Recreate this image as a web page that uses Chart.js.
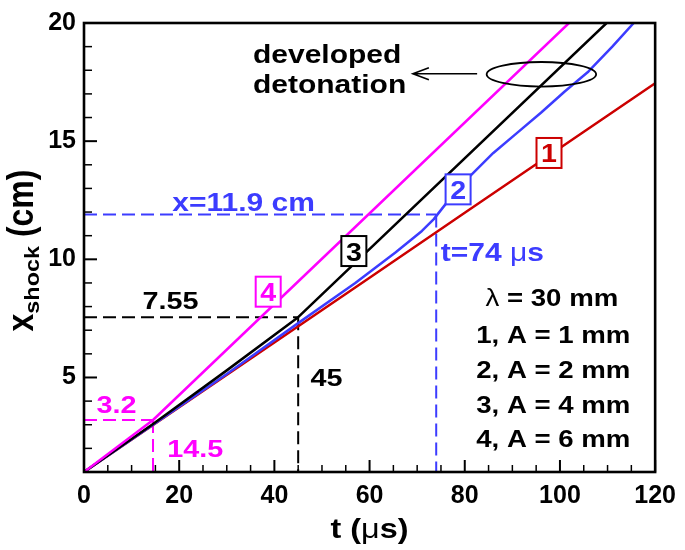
<!DOCTYPE html>
<html>
<head>
<meta charset="utf-8">
<title>Shock position vs time</title>
<script src="https://cdn.jsdelivr.net/npm/chart.js@4/dist/chart.umd.min.js"></script>
<style>
  html, body { margin: 0; padding: 0; background: #fff; }
  #wrap { width: 685px; height: 550px; position: relative; }
</style>
</head>
<body>
<div id="wrap"><canvas id="chart"></canvas></div>
<script>
// ---- shock trajectories: time (µs) and shock position (cm) ----
const tA1 = [0, 20, 40, 60, 80, 100, 120];
const xA1 = [1, 3.74, 6.48, 9.22, 11.97, 14.71, 17.45];

const tA2 = [0, 14.5, 30, 45, 57, 65.5, 71, 73.5, 77, 81, 86, 91, 96, 101, 106, 111, 115.5];
const xA2 = [1, 3.0, 5.15, 7.3, 9.0, 10.3, 11.2, 11.7, 12.6, 13.5, 14.5, 15.35, 16.2, 17.1, 17.95, 19.0, 20];

const tA4 = [0, 14.5, 30, 45, 109.8];
const xA4 = [1, 3.03, 5.3, 7.55, 20];

const tA6 = [0, 14.5, 101.9];
const xA6 = [1, 3.2, 20];

// perturbation amplitudes (mm) and wavelength (mm)
const amplitudes = [1, 2, 4, 6];
const wavelength = 30;

// transition points marked with guide lines
const guideT = [14.5, 45, 74];
const guideX = [3.2, 7.55, 11.9];

// axis ticks
const xTickLabels = [0, 20, 40, 60, 80, 100, 120];
const yTickLabels = [5, 10, 15, 20];
const xMinorStep = 5;
const yMinorStep = 1;

// ---- styling ----
const FAM = '"Liberation Sans", Arial, Helvetica, sans-serif';
const bold = n => `bold ${n}px ${FAM}`;
const reg = n => `${n}px ${FAM}`;
const RED = '#cc0000', BLUE = '#3c3cff', BLACK = '#000000', MAG = '#ff00ff';
const curveColors = [RED, BLUE, BLACK, MAG];
const guideColors = [MAG, BLACK, BLUE];
const SX = 1.2; // horizontal widening of annotation text

const pairs = (ts, xs) => ts.map((t, i) => ({ x: t, y: xs[i] }));

// text runs drawn side by side, optionally widened
function drawRuns(ctx, runs, x, y, align, sx, color, rotate, sy) {
  ctx.save();
  ctx.fillStyle = color;
  ctx.textBaseline = 'alphabetic';
  ctx.textAlign = 'left';
  let w = 0;
  runs.forEach(r => { ctx.font = r.font; r.w = ctx.measureText(r.text).width * (r.sx || 1); w += r.w; });
  ctx.translate(x, y);
  if (rotate) ctx.rotate(rotate);
  ctx.scale(sx, sy || 1);
  let cx = align === 'center' ? -w / 2 : align === 'right' ? -w : 0;
  runs.forEach(r => {
    ctx.save();
    ctx.font = r.font;
    ctx.translate(cx, r.dy || 0);
    ctx.scale(r.sx || 1, 1);
    ctx.fillText(r.text, 0, 0);
    ctx.restore();
    cx += r.w;
  });
  ctx.restore();
}

// annotation text placed in data coordinates (left/center, baseline)
const notes = [
  { t: 2.64,  v: 3.51,  align: 'left', color: MAG,   runs: [{ text: String(guideX[0]), font: bold(24) }] },
  { t: 17.5,  v: 1.64,  align: 'left', color: MAG,   runs: [{ text: String(guideT[0]), font: bold(24) }] },
  { t: 12.3,  v: 7.89,  align: 'left', color: BLACK, runs: [{ text: String(guideX[1]), font: bold(24) }] },
  { t: 47.6,  v: 4.62,  align: 'left', color: BLACK, runs: [{ text: String(guideT[1]), font: bold(24) }] },
  { t: 18.55, v: 12.05, align: 'left', color: BLUE,  runs: [{ text: 'x=' + guideX[2] + ' cm', font: bold(25) }] },
  { t: 74.95, v: 9.92,  align: 'left', color: BLUE,  runs: [{ text: 't=' + guideT[2] + ' ', font: bold(25) }, { text: 'μ', font: reg(25) }, { text: 's', font: bold(25) }] },
  { t: 35.5,  v: 18.29, align: 'left', color: BLACK, runs: [{ text: 'developed', font: bold(25) }] },
  { t: 35.5,  v: 17.04, align: 'left', color: BLACK, runs: [{ text: 'detonation', font: bold(25) }] },
  { t: 98.3,  v: 8.03,  align: 'center', color: BLACK, runs: [{ text: 'λ', font: reg(23) }, { text: ' = ' + wavelength + ' mm', font: bold(23) }] },
];
const legendBaselines = [6.46, 4.97, 3.51, 2.05];
amplitudes.forEach((a, i) => {
  notes.push({ t: 98.6, v: legendBaselines[i], align: 'center', color: BLACK,
    runs: [{ text: (i + 1) + ', A = ' + a + ' mm', font: bold(23) }] });
});

// numbered tags sitting on each curve (center in data coordinates)
const tags = [
  { t: 97.7, v: 14.5,  label: '1', color: RED },
  { t: 78.6, v: 12.96, label: '2', color: BLUE },
  { t: 56.7, v: 10.35, label: '3', color: BLACK },
  { t: 38.7, v: 8.63,  label: '4', color: MAG },
];

// ellipse around the developed-detonation segments and the pointer arrow
const ring = { t: 96.1, v: 17.83, rt: 11.5, rv: 0.52 };
const pointer = { t0: 82.6, t1: 69.1, v: 17.85 };

const decor = {
  id: 'decor',
  beforeDatasetsDraw(chart) {
    const { ctx, scales: { x, y } } = chart;
    ctx.save();
    ctx.lineWidth = 2;
    ctx.setLineDash([13, 6]);
    guideT.forEach((t, i) => {
      ctx.strokeStyle = guideColors[i];
      const py = y.getPixelForValue(guideX[i]);
      const px = x.getPixelForValue(t);
      ctx.beginPath();
      ctx.moveTo(x.getPixelForValue(x.min), py);
      ctx.lineTo(px, py);
      ctx.stroke();
      ctx.beginPath();
      ctx.moveTo(px, py);
      ctx.lineTo(px, y.getPixelForValue(y.min));
      ctx.stroke();
    });
    ctx.restore();
  },
  afterDatasetsDraw(chart) {
    const { ctx, scales: { x, y } } = chart;
    ctx.save();
    // ellipse
    ctx.strokeStyle = '#000';
    ctx.lineWidth = 1.8;
    ctx.beginPath();
    const cx = x.getPixelForValue(ring.t), cy = y.getPixelForValue(ring.v);
    const rx = x.getPixelForValue(ring.t + ring.rt) - cx;
    const ry = cy - y.getPixelForValue(ring.v + ring.rv);
    ctx.ellipse(cx, cy, rx, ry, 0, 0, Math.PI * 2);
    ctx.stroke();
    // arrow
    const ax0 = x.getPixelForValue(pointer.t0), ax1 = x.getPixelForValue(pointer.t1);
    const ay = y.getPixelForValue(pointer.v);
    ctx.lineWidth = 1.6;
    ctx.beginPath();
    ctx.moveTo(ax0, ay); ctx.lineTo(ax1, ay);
    ctx.moveTo(ax1 + 16, ay - 6); ctx.lineTo(ax1, ay); ctx.lineTo(ax1 + 16, ay + 6);
    ctx.stroke();
    // tags
    tags.forEach(tg => {
      const px = x.getPixelForValue(tg.t), py = y.getPixelForValue(tg.v);
      ctx.fillStyle = '#fff';
      ctx.fillRect(px - 12.5, py - 15, 25, 30);
      ctx.strokeStyle = tg.color;
      ctx.lineWidth = 2;
      ctx.strokeRect(px - 12.5, py - 15, 25, 30);
      drawRuns(ctx, [{ text: tg.label, font: bold(26) }], px, py + 9.5, 'center', 1.1, tg.color);
    });
    // text notes
    notes.forEach(n => {
      drawRuns(ctx, n.runs, x.getPixelForValue(n.t), y.getPixelForValue(n.v), n.align, SX, n.color);
    });
    ctx.restore();
  },
  afterDraw(chart) {
    const { ctx, chartArea: { left, right, top, bottom }, scales: { x, y } } = chart;
    ctx.save();
    ctx.strokeStyle = '#000';
    ctx.setLineDash([]);
    // ticks pointing into the plot
    for (let v = Math.ceil(y.min); v <= y.max; v += yMinorStep) {
      const major = yTickLabels.includes(v);
      const py = y.getPixelForValue(v);
      ctx.lineWidth = major ? 2 : 1.5;
      ctx.beginPath();
      ctx.moveTo(left, py); ctx.lineTo(left + (major ? 13 : 8), py);
      ctx.stroke();
    }
    for (let v = x.min; v <= x.max; v += xMinorStep) {
      const major = xTickLabels.includes(v);
      const px = x.getPixelForValue(v);
      ctx.lineWidth = major ? 2 : 1.5;
      ctx.beginPath();
      ctx.moveTo(px, bottom); ctx.lineTo(px, bottom - (major ? 12 : 7));
      ctx.stroke();
    }
    // frame
    ctx.lineWidth = 2.6;
    ctx.strokeRect(left, top, right - left, bottom - top);
    ctx.restore();

    // axis titles
    drawRuns(ctx, [
      { text: 't (', font: bold(27) },
      { text: 'μ', font: reg(27) },
      { text: 's)', font: bold(27) }
    ], (left + right) / 2, bottom + 66, 'center', SX, '#000');

    drawRuns(ctx, [
      { text: 'x', font: bold(32) },
      { text: 'shock', font: bold(18), dy: 5.5, sx: 1.3 },
      { text: ' (cm)', font: bold(32) }
    ], 33, (top + bottom) / 2 + 3, 'center', 1, '#000', -Math.PI / 2, 1.15);
  }
};

const series = [
  { ts: tA1, xs: xA1, order: 4 },
  { ts: tA2, xs: xA2, order: 3 },
  { ts: tA4, xs: xA4, order: 2 },
  { ts: tA6, xs: xA6, order: 1 },
];

const tickFont = { family: FAM, size: 25, weight: 'bold' };

new Chart(document.getElementById('chart'), {
  type: 'scatter',
  data: {
    datasets: series.map((s, i) => ({
      label: (i + 1) + ', A = ' + amplitudes[i] + ' mm',
      data: pairs(s.ts, s.xs),
      showLine: true,
      borderColor: curveColors[i],
      backgroundColor: curveColors[i],
      borderWidth: 2.5,
      pointRadius: 0,
      tension: 0,
      order: s.order,
      borderJoinStyle: 'round'
    }))
  },
  options: {
    responsive: true,
    maintainAspectRatio: false,
    animation: false,
    events: [],
    layout: { padding: { top: 16, right: 23, left: 0, bottom: 0 } },
    plugins: { legend: { display: false }, tooltip: { enabled: false } },
    scales: {
      x: {
        type: 'linear', min: 0, max: 120,
        grid: { display: false, drawTicks: false },
        border: { display: false },
        ticks: { font: tickFont, color: '#000', padding: 9, maxRotation: 0 },
        afterBuildTicks(s) { s.ticks = xTickLabels.map(v => ({ value: v })); },
        afterFit(s) { s.height = 78; }
      },
      y: {
        type: 'linear', min: 1, max: 20,
        grid: { display: false, drawTicks: false },
        border: { display: false },
        ticks: { font: tickFont, color: '#000', padding: 8 },
        afterBuildTicks(s) { s.ticks = yTickLabels.map(v => ({ value: v })); },
        afterFit(s) { s.width = 84; }
      }
    }
  },
  plugins: [decor]
});
</script>
</body>
</html>
